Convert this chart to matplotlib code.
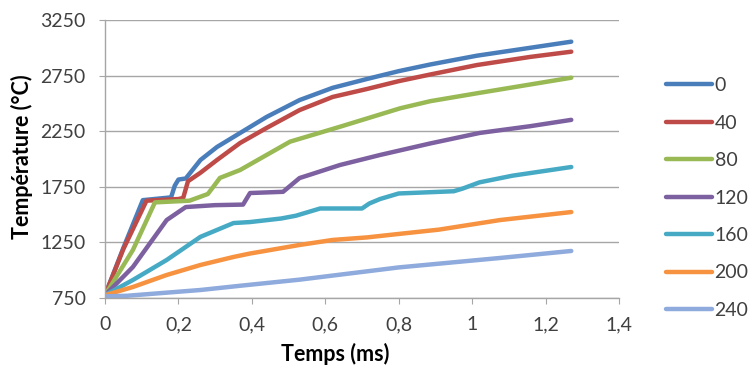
import matplotlib
matplotlib.use("Agg")
import matplotlib.pyplot as plt

plt.rcParams['font.family'] = ['Lato', 'DejaVu Sans']

# ---- data (time in ms, temperature in °C) ----
labels = ["0", "40", "80", "120", "160", "200", "240"]

x0 = [0, 0.05, 0.103, 0.18, 0.19, 0.2, 0.22, 0.26, 0.305, 0.368, 0.44, 0.53, 0.62, 0.714, 0.80, 0.886, 1.013, 1.158, 1.27]
y0 = [775, 1200, 1630, 1655, 1760, 1815, 1825, 1991, 2108, 2234, 2378, 2530, 2640, 2720, 2790, 2850, 2929, 3000, 3055]

x40 = [0, 0.05, 0.113, 0.2, 0.213, 0.226, 0.259, 0.305, 0.368, 0.44, 0.53, 0.62, 0.714, 0.80, 0.886, 1.013, 1.158, 1.27]
y40 = [775, 1190, 1625, 1640, 1650, 1800, 1874, 1991, 2144, 2279, 2440, 2558, 2630, 2700, 2760, 2845, 2918, 2965]

x80 = [0, 0.076, 0.136, 0.23, 0.28, 0.295, 0.313, 0.368, 0.504, 0.64, 0.804, 0.886, 1.013, 1.158, 1.27]
y80 = [775, 1182, 1610, 1625, 1685, 1750, 1830, 1901, 2156, 2290, 2456, 2520, 2591, 2670, 2731]

x120 = [0, 0.076, 0.168, 0.22, 0.3, 0.376, 0.395, 0.485, 0.53, 0.55, 0.64, 0.749, 0.886, 1.02, 1.158, 1.27]
y120 = [775, 1029, 1451, 1568, 1585, 1590, 1694, 1705, 1829, 1850, 1946, 2036, 2140, 2234, 2295, 2352]

x160 = [0, 0.076, 0.168, 0.26, 0.35, 0.395, 0.48, 0.52, 0.586, 0.70, 0.72, 0.749, 0.80, 0.95, 0.975, 1.02, 1.11, 1.27]
y160 = [775, 912, 1092, 1300, 1424, 1433, 1465, 1490, 1555, 1555, 1600, 1640, 1690, 1710, 1735, 1790, 1850, 1928]

x200 = [0, 0.076, 0.168, 0.26, 0.35, 0.395, 0.53, 0.62, 0.714, 0.80, 0.91, 1.076, 1.27]
y200 = [775, 849, 957, 1047, 1119, 1150, 1227, 1272, 1295, 1326, 1365, 1451, 1523]

x240 = [0, 0.06, 0.26, 0.368, 0.53, 0.80, 1.076, 1.27]
y240 = [765, 770, 822, 860, 915, 1025, 1110, 1173]

xs = [x0, x40, x80, x120, x160, x200, x240]
ys = [y0, y40, y80, y120, y160, y200, y240]
colors = ["#4A7EBB", "#BE4B48", "#98B954", "#7D60A0", "#46AAC5", "#F69240", "#8FAADC"]

xticks = [0, 0.2, 0.4, 0.6, 0.8, 1.0, 1.2, 1.4]
xticklabels = ["0", "0,2", "0,4", "0,6", "0,8", "1", "1,2", "1,4"]
yticks = [750, 1250, 1750, 2250, 2750, 3250]

fig = plt.figure(figsize=(7.52, 3.79), dpi=100)
ax = fig.add_axes([105/752, 1-298/379, (619-105)/752, (298-20)/379])

for x, y, c, lab in zip(xs, ys, colors, labels):
    ax.plot(x, y, color=c, lw=3.2, label=lab, solid_capstyle='round', solid_joinstyle='round')

ax.set_xlim(0, 1.4)
ax.set_ylim(750, 3250)
ax.set_xticks(xticks)
ax.set_xticklabels(xticklabels)
ax.set_yticks(yticks)
ax.yaxis.grid(True, color="#A6A6A6", lw=1.0)
ax.set_axisbelow(True)
for s in ["top", "right"]:
    ax.spines[s].set_visible(False)
for s in ["left", "bottom"]:
    ax.spines[s].set_color("#A6A6A6")
    ax.spines[s].set_linewidth(1.0)
ax.tick_params(axis='both', colors="#A6A6A6", labelcolor="#404040", labelsize=14, length=4, direction='out')
ax.tick_params(axis='x', pad=9)
ax.tick_params(axis='y', pad=10)

fig.text(335/752, 1-354/379, "Temps (ms)", fontsize=15.5, fontweight='bold', color="#000000",
         ha='center', va='center')
fig.text(22/752, 1-157/379, "Température (°C)", fontsize=15.5, fontweight='bold', color="#000000",
         ha='center', va='center', rotation=90)

leg = ax.legend(loc='center left', bbox_to_anchor=(666/752, 1-198/379), bbox_transform=fig.transFigure,
                frameon=False, fontsize=14, handlelength=2.35, handletextpad=0.15,
                labelspacing=1.05, borderpad=0, borderaxespad=0)
for t in leg.get_texts():
    t.set_color("#404040")

fig.savefig("out.png", dpi=100)
